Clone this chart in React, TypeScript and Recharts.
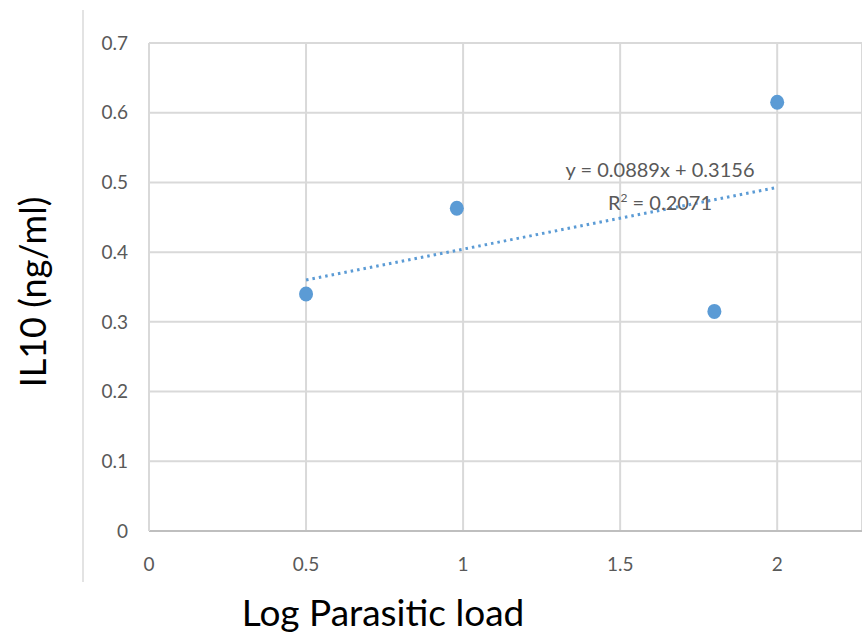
import { ComposedChart, Scatter, XAxis, YAxis, CartesianGrid, ReferenceDot } from 'recharts';

const loadValues = [0.5, 0.98, 1.8, 2.0];
const il10Values = [0.34, 0.463, 0.315, 0.615];
const trendX = [0.5, 2.0];
const trendY = [0.36, 0.493];
const xTicks = [0, 0.5, 1, 1.5, 2];
const yTicks = [0, 0.1, 0.2, 0.3, 0.4, 0.5, 0.6, 0.7];
const equationText = 'y = 0.0889x + 0.3156';
const rSquaredText = '0.2071';

const points = loadValues.map((x, i) => ({ x, y: il10Values[i] }));
const trend = trendX.map((x, i) => ({ x, y: trendY[i] }));

const BLUE = '#5B9BD5';
const GRID = '#d9d9d9';
const TEXT = '#595959';
const FONT = 'Lato, "Open Sans", sans-serif';

const EquationLabel = (props: any) => {
    const { viewBox } = props;
    const cx = viewBox.x;
    const cy = viewBox.y;
    return (
        <g fontFamily={FONT} fill={TEXT} fontSize={20} textAnchor="middle">
            <text x={cx} y={cy - 12}>{equationText}</text>
            <text x={cx} y={cy + 21}>
                R<tspan fontSize={12} dy={-8}>2</tspan>
                <tspan dy={8}> = {rSquaredText}</tspan>
            </text>
        </g>
    );
};

export default function App() {
    return (
        <div style={{ position: 'absolute', left: 0, top: 0, width: 862, height: 636, background: '#fff' }}>
            {/* outer frame line on the left */}
            <div style={{ position: 'absolute', left: 82, top: 10, width: 2, height: 572, background: '#e3e3e3' }} />
            <ComposedChart
                width={862}
                height={636}
                margin={{ top: 43, right: 0, bottom: 0, left: 0 }}
            >
                <CartesianGrid stroke={GRID} strokeWidth={2} />
                <XAxis
                    type="number"
                    dataKey="x"
                    domain={[0, 2.27]}
                    ticks={xTicks}
                    height={105}
                    axisLine={{ stroke: '#bfbfbf', strokeWidth: 2 }}
                    tickLine={false}
                    tickSize={0}
                    tickMargin={27}
                    tick={{ fontSize: 19, fill: TEXT, fontFamily: FONT }}
                />
                <YAxis
                    type="number"
                    dataKey="y"
                    domain={[0, 0.7]}
                    ticks={yTicks}
                    width={149}
                    axisLine={{ stroke: GRID, strokeWidth: 2 }}
                    tickLine={false}
                    tickSize={0}
                    tickMargin={21}
                    tick={{ fontSize: 19, fill: TEXT, fontFamily: FONT }}
                />
                {/* dotted linear trendline */}
                <Scatter
                    data={trend}
                    line={{ stroke: BLUE, strokeWidth: 3, strokeDasharray: '2.5 4' }}
                    shape={() => null}
                    isAnimationActive={false}
                />
                <Scatter
                    data={points}
                    fill={BLUE}
                    shape={(p: any) => <ellipse cx={p.cx} cy={p.cy} rx={7} ry={7.5} fill={BLUE} />}
                    isAnimationActive={false}
                />
                <ReferenceDot x={1.627} y={0.49} r={0} ifOverflow="visible" label={<EquationLabel />} />
            </ComposedChart>
            <div
                style={{
                    position: 'absolute', left: 32, top: 292, transform: 'translate(-50%, -50%) rotate(-90deg)',
                    whiteSpace: 'nowrap', fontFamily: FONT, fontSize: 36, color: '#000'
                }}
            >
                IL10 (ng/ml)
            </div>
            <div
                style={{
                    position: 'absolute', left: 383, top: 611, transform: 'translate(-50%, -50%)',
                    whiteSpace: 'nowrap', fontFamily: FONT, fontSize: 37, color: '#000'
                }}
            >
                Log Parasitic load
            </div>
        </div>
    );
}
